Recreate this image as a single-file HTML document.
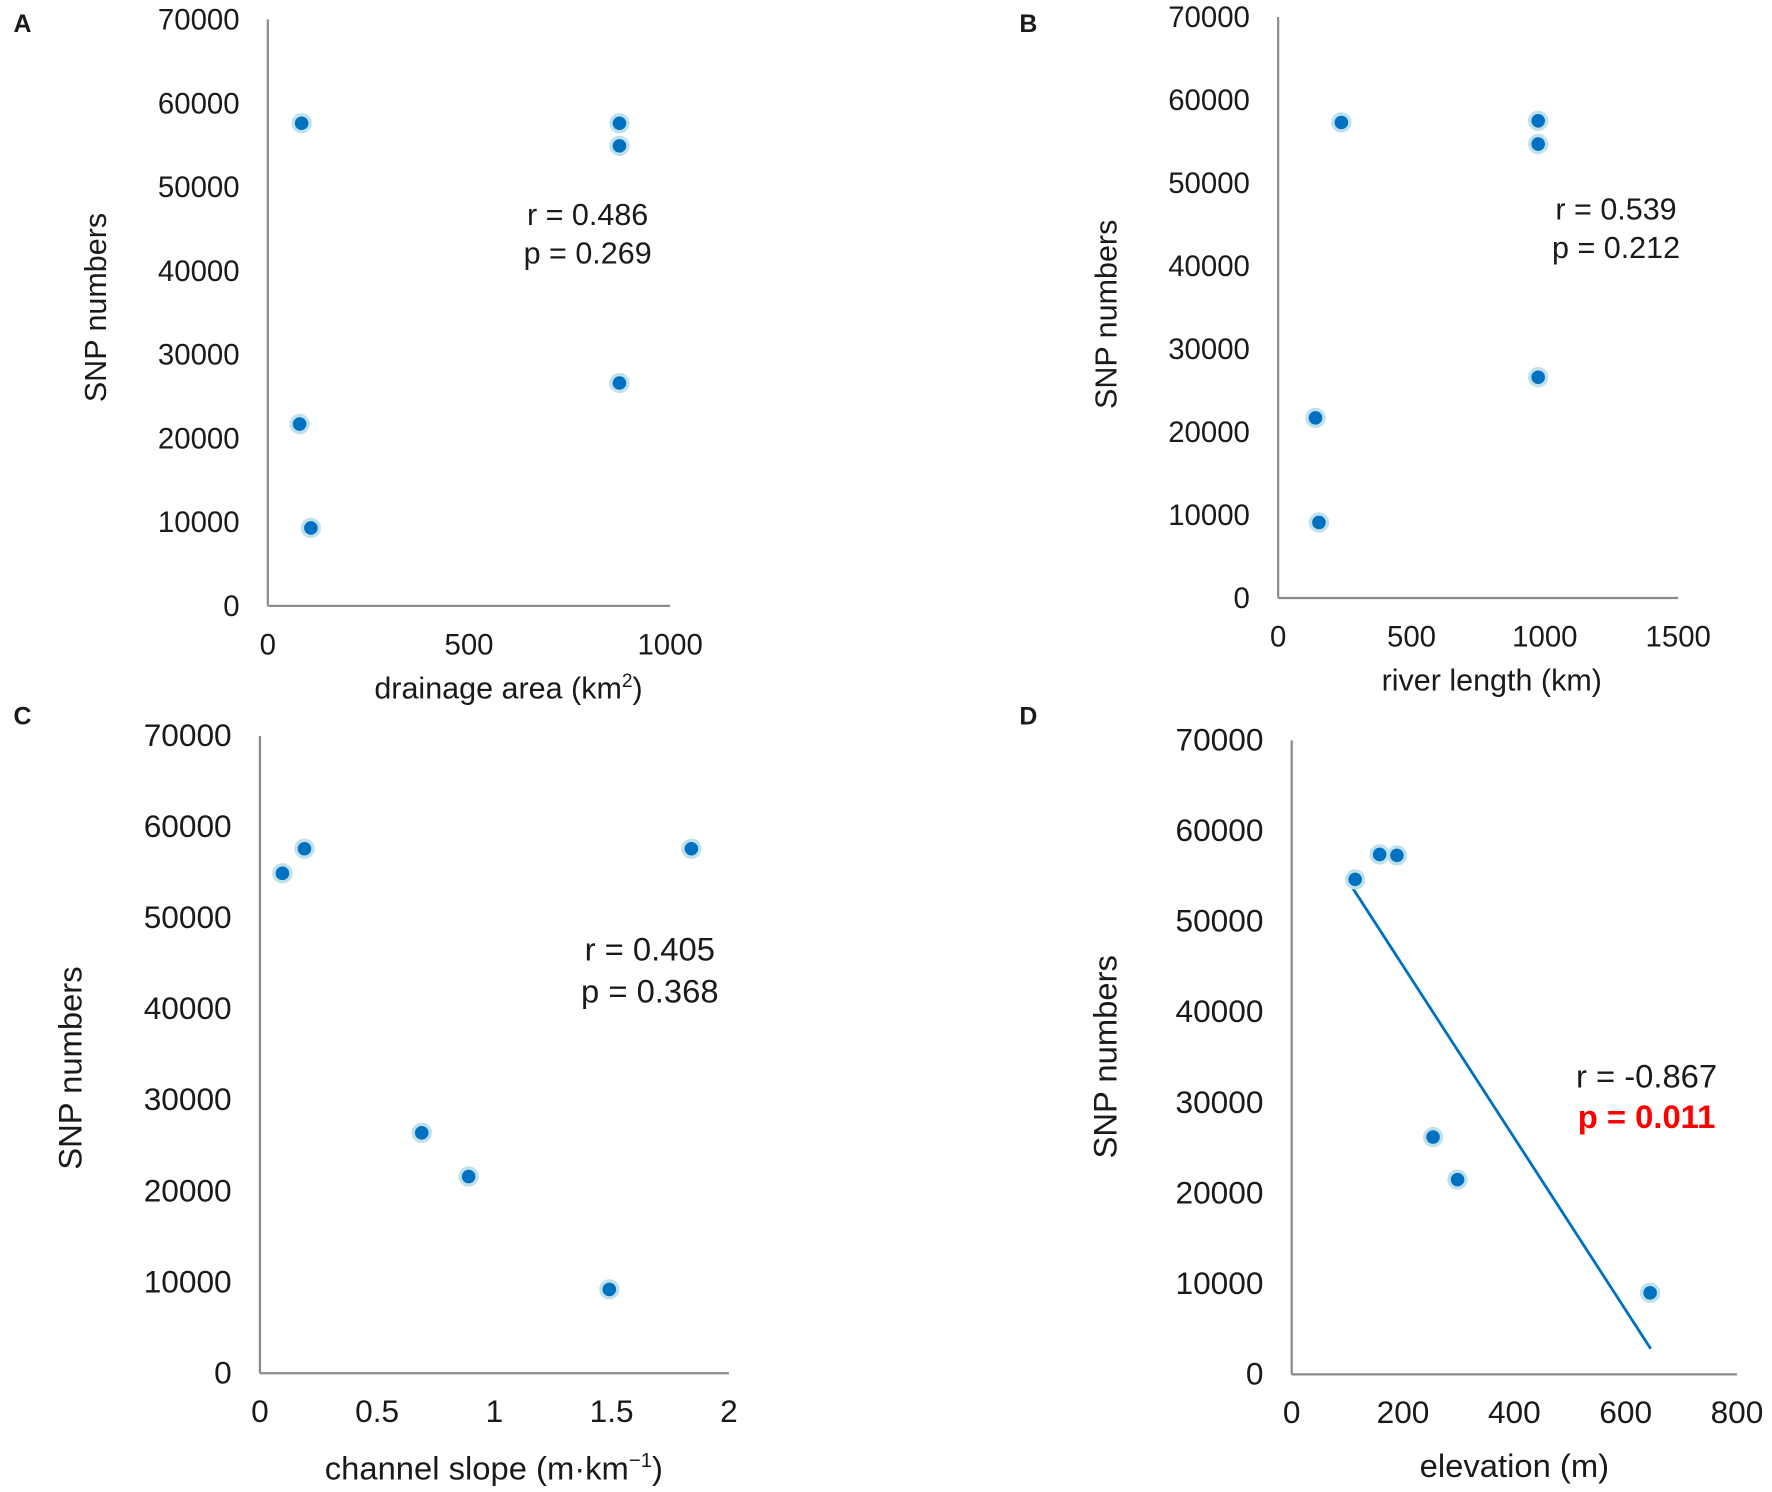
<!DOCTYPE html>
<html><head><meta charset="utf-8"><style>
html,body{margin:0;padding:0;background:#fff}
svg{display:block}
text{font-family:"Liberation Sans",Arial,sans-serif;fill:#1a1a1a}
</style></head><body>
<svg id="fig" width="1772" height="1492" viewBox="0 0 1568 1320" xmlns="http://www.w3.org/2000/svg"></svg>
<script>
// Panel A data
const aX = [84, 874, 874, 874, 79, 107];
const aY = [57600, 57600, 54900, 26600, 21700, 9300];
const aXTicks = [0, 500, 1000];
// Panel B data
const bX = [237, 975, 975, 975, 140, 153];
const bY = [57300, 57500, 54700, 26600, 21700, 9100];
const bXTicks = [0, 500, 1000, 1500];
// Panel C data
const cX = [0.096, 0.19, 1.84, 0.69, 0.89, 1.49];
const cY = [54900, 57600, 57600, 26400, 21600, 9200];
const cXTicks = [0, 0.5, 1, 1.5, 2];
// Panel D data
const dX = [114, 158, 189, 254, 298, 644];
const dY = [54650, 57400, 57300, 26200, 21500, 9000];
const dXTicks = [0, 200, 400, 600, 800];
const dFitX = [110, 645];
const dFitIntercept = 64100;
const dFitSlope = -95.0;
const yTicks = [0, 10000, 20000, 30000, 40000, 50000, 60000, 70000];

const NS = "http://www.w3.org/2000/svg";
const svg = document.getElementById('fig');
function el(tag, attrs, parent) {
  const e = document.createElementNS(NS, tag);
  for (const k in attrs) e.setAttribute(k, attrs[k]);
  (parent || svg).appendChild(e);
  return e;
}
function txt(s, attrs, parent) { const t = el('text', attrs, parent); t.textContent = s; return t; }

function panel(cfg) {
  const g = el('g', {});
  
  
  const sx = v => cfg.x0 + (v - cfg.xmin) / (cfg.xmax - cfg.xmin) * (cfg.x1 - cfg.x0);
  const sy = v => cfg.yb - v / 70000 * (cfg.yb - cfg.yt);
  const yax = el('line', {x1: cfg.x0, y1: cfg.yt, x2: cfg.x0, y2: cfg.yb, stroke: '#8c8c8c', 'stroke-width': 2}, g);
  
  
  const xax = el('line', {x1: cfg.x0, y1: cfg.yb, x2: cfg.x1, y2: cfg.yb, stroke: '#8c8c8c', 'stroke-width': 2}, g);
  
  
  yTicks.forEach(v => {
    const t = txt(String(v), {x: cfg.x0 - 25, y: sy(v) + 9, 'text-anchor': 'end', 'font-size': cfg.fs}, g);
    
    
  });
  cfg.xt.forEach(v => {
    const t = txt(String(v), {x: sx(v), y: cfg.yb + 43, 'text-anchor': 'middle', 'font-size': cfg.fs}, g);
    
    
  });
  if (cfg.fit) {
    const fx = cfg.fit.xs;
    const ln = el('line', {x1: sx(fx[0]), y1: sy(cfg.fit.a + cfg.fit.b * fx[0]), x2: sx(fx[1]), y2: sy(cfg.fit.a + cfg.fit.b * fx[1]), stroke: '#0070c0', 'stroke-width': 2.5}, g);
    
    
  }
  cfg.xs.forEach((v, i) => {
    const c = el('circle', {cx: sx(v), cy: sy(cfg.ys[i]), r: 7.5, fill: '#0070c0', stroke: '#bfe1ec', 'stroke-width': 3}, g);
    
    
  });
  const yl = txt('SNP numbers', {x: 0, y: 0, 'text-anchor': 'middle', 'font-size': cfg.fs + 1, transform: 'translate(' + cfg.ylx + ',' + cfg.yly + ') rotate(-90)'}, g);
  
  
  const xl = txt('', {x: cfg.xlx, y: cfg.xly, 'text-anchor': 'middle', 'font-size': cfg.fs + 1}, g);
  xl.innerHTML = cfg.xlabel;
  
  
  const r = txt(cfg.r, {x: cfg.tx, y: cfg.ty, 'text-anchor': 'middle', 'font-size': cfg.fs + 1}, g);
  
  
  const pAttrs = {x: cfg.tx, y: cfg.ty + cfg.tgap, 'text-anchor': 'middle', 'font-size': cfg.fs + 1};
  if (cfg.pred) { pAttrs.style = 'fill:#ff0000;font-weight:bold'; }
  const p = txt(cfg.p, pAttrs, g);
  
  
  const L = txt(cfg.id, {x: cfg.lx, y: cfg.ly, 'font-size': 22, 'font-weight': 'bold'}, g);
  
  
}

panel({id: 'A', x0: 237, x1: 593, xmin: 0, xmax: 1000, yt: 17, yb: 536, xs: aX, ys: aY, xt: aXTicks, fs: 26,
  ylx: 94, yly: 272, xlx: 450, xly: 618, xlabel: 'drainage area (km<tspan font-size="17" dy="-10">2</tspan><tspan dy="10">)</tspan>',
  r: 'r = 0.486', p: 'p = 0.269', tx: 520, ty: 199, tgap: 34, lx: 12, ly: 28});
panel({id: 'B', x0: 1131, x1: 1485, xmin: 0, xmax: 1500, yt: 15, yb: 529, xs: bX, ys: bY, xt: bXTicks, fs: 26,
  ylx: 988, yly: 278, xlx: 1320, xly: 611, xlabel: 'river length (km)',
  r: 'r = 0.539', p: 'p = 0.212', tx: 1430, ty: 194, tgap: 34, lx: 902, ly: 28});
panel({id: 'C', x0: 230, x1: 645, xmin: 0, xmax: 2, yt: 651, yb: 1215, xs: cX, ys: cY, xt: cXTicks, fs: 28,
  ylx: 72, yly: 945, xlx: 437, xly: 1309, xlabel: 'channel slope (m·km<tspan font-size="18" dy="-11">−1</tspan><tspan dy="11">)</tspan>',
  r: 'r = 0.405', p: 'p = 0.368', tx: 575, ty: 850, tgap: 37, lx: 12, ly: 641});
panel({id: 'D', x0: 1143, x1: 1537, xmin: 0, xmax: 800, yt: 655, yb: 1216, xs: dX, ys: dY, xt: dXTicks, fs: 28,
  ylx: 988, yly: 935, xlx: 1340, xly: 1307, xlabel: 'elevation (m)',
  r: 'r = -0.867', p: 'p = 0.011', pred: true, tx: 1457, ty: 962, tgap: 36, lx: 902, ly: 641,
  fit: {xs: dFitX, a: dFitIntercept, b: dFitSlope}});
</script>
</body></html>
